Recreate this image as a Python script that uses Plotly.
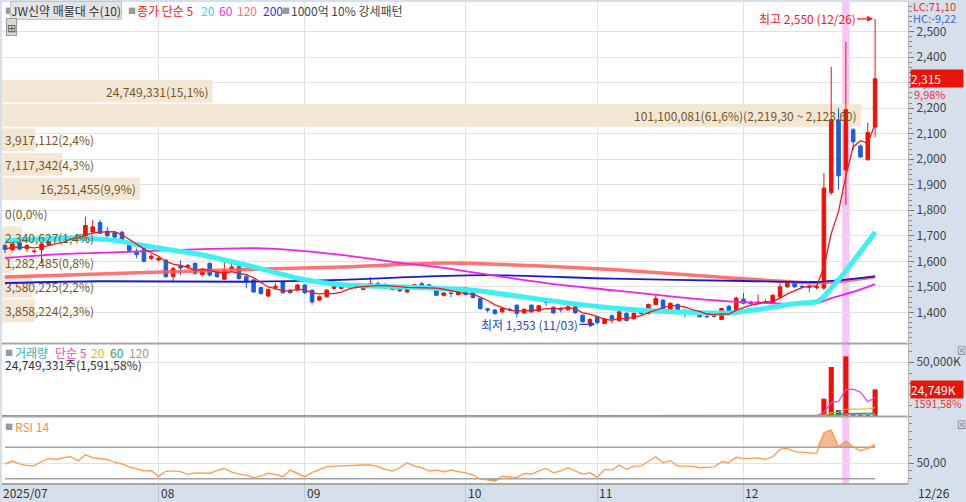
import pandas as pd
import plotly.graph_objects as go

# trading days shown on the chart (KRX calendar)
holidays = ["2025-08-15", "2025-10-03", "2025-10-06", "2025-10-07", "2025-10-08", "2025-10-09", "2025-12-25"]
days = pd.bdate_range("2025-07-03", "2025-12-26")
days = days[~days.isin(pd.to_datetime(holidays))]
dates = list(days.strftime("%Y-%m-%d"))

open_ = [
    1662, 1645, 1672, 1650, 1638, 1645, 1665, 1684, 1686, 1690,
    1700, 1700, 1715, 1752, 1718, 1712, 1714, 1668, 1640, 1650,
    1612, 1605, 1605, 1540, 1580, 1578, 1592, 1548, 1592, 1559,
    1530, 1570, 1579, 1540, 1527, 1497, 1464, 1498, 1520, 1487,
    1487, 1507, 1487, 1448, 1461, 1494, 1494, 1502, 1502, 1490,
    1508, 1508, 1508, 1490, 1496, 1480, 1504, 1512, 1508, 1497,
    1467, 1476, 1470, 1497, 1480, 1454, 1414, 1409, 1402, 1412,
    1428, 1398, 1428, 1405, 1441, 1420, 1416, 1410, 1422, 1389,
    1357, 1382, 1356, 1387, 1367, 1396, 1375, 1398, 1396, 1431,
    1448, 1402, 1431, 1404, 1398, 1389, 1384, 1386, 1372, 1424,
    1409, 1452, 1440, 1436, 1442, 1436, 1460, 1500, 1516, 1502,
    1502, 1497, 1495, 1870, 2154, 1958, 2115, 2052, 1998, 2126,
]
high = [
    1670, 1675, 1680, 1668, 1646, 1672, 1694, 1698, 1700, 1702,
    1708, 1774, 1762, 1762, 1735, 1718, 1720, 1672, 1650, 1655,
    1628, 1620, 1608, 1578, 1604, 1590, 1596, 1572, 1596, 1566,
    1598, 1598, 1585, 1545, 1532, 1500, 1494, 1514, 1524, 1492,
    1512, 1510, 1490, 1466, 1492, 1530, 1514, 1510, 1508, 1506,
    1538, 1520, 1516, 1500, 1500, 1502, 1512, 1520, 1512, 1500,
    1480, 1480, 1484, 1500, 1484, 1458, 1418, 1414, 1420, 1418,
    1432, 1416, 1432, 1430, 1452, 1424, 1420, 1428, 1426, 1392,
    1378, 1386, 1378, 1392, 1406, 1400, 1400, 1406, 1434, 1466,
    1452, 1440, 1435, 1415, 1410, 1392, 1390, 1392, 1418, 1430,
    1462, 1476, 1446, 1470, 1452, 1470, 1514, 1520, 1522, 1508,
    1510, 1506, 1946, 2362, 2200, 2460, 2122, 2058, 2142, 2550,
]
low = [
    1632, 1640, 1642, 1636, 1630, 1592, 1660, 1678, 1680, 1684,
    1686, 1696, 1710, 1706, 1696, 1690, 1676, 1638, 1612, 1596,
    1605, 1600, 1536, 1520, 1546, 1570, 1548, 1540, 1540, 1535,
    1526, 1566, 1528, 1494, 1476, 1470, 1460, 1488, 1472, 1472,
    1483, 1472, 1430, 1444, 1458, 1490, 1490, 1494, 1492, 1486,
    1504, 1504, 1496, 1486, 1480, 1476, 1500, 1500, 1494, 1464,
    1462, 1460, 1466, 1466, 1454, 1410, 1400, 1390, 1398, 1404,
    1380, 1394, 1398, 1400, 1425, 1394, 1400, 1406, 1394, 1360,
    1354, 1353, 1355, 1356, 1364, 1364, 1372, 1390, 1392, 1428,
    1410, 1398, 1392, 1380, 1394, 1380, 1378, 1380, 1370, 1398,
    1405, 1432, 1428, 1432, 1434, 1432, 1456, 1496, 1496, 1494,
    1480, 1490, 1488, 1860, 1880, 1821, 2036, 2005, 1995, 2087,
]
close = [
    1646, 1668, 1648, 1662, 1640, 1668, 1688, 1690, 1692, 1696,
    1692, 1740, 1735, 1710, 1700, 1695, 1680, 1642, 1626, 1600,
    1620, 1612, 1540, 1572, 1574, 1584, 1553, 1566, 1546, 1540,
    1566, 1578, 1533, 1520, 1480, 1474, 1490, 1502, 1477, 1478,
    1507, 1477, 1441, 1461, 1487, 1500, 1507, 1500, 1498, 1500,
    1512, 1512, 1502, 1496, 1484, 1497, 1508, 1504, 1498, 1467,
    1476, 1474, 1480, 1470, 1458, 1415, 1409, 1396, 1415, 1410,
    1396, 1412, 1402, 1426, 1439, 1398, 1410, 1422, 1399, 1363,
    1372, 1360, 1374, 1374, 1402, 1368, 1396, 1396, 1431, 1454,
    1415, 1435, 1396, 1402, 1404, 1383, 1383, 1384, 1415, 1402,
    1456, 1436, 1434, 1440, 1439, 1467, 1500, 1516, 1500, 1500,
    1498, 1502, 1887, 2155, 1935, 2195, 2068, 2009, 2105, 2315,
]
volume = [
    152000, 138000, 121000, 96000, 88000, 175000, 143000, 110000, 97000, 102000,
    118000, 264000, 198000, 187000, 126000, 94000, 115000, 133000, 121000, 142000,
    87000, 76000, 168000, 112000, 94000, 71000, 98000, 83000, 102000, 77000,
    119000, 86000, 104000, 131000, 156000, 97000, 88000, 74000, 103000, 79000,
    92000, 86000, 141000, 82000, 95000, 118000, 91000, 66000, 58000, 72000,
    109000, 84000, 69000, 63000, 77000, 81000, 62000, 70000, 59000, 104000,
    73000, 61000, 68000, 95000, 88000, 163000, 92000, 85000, 77000, 64000,
    118000, 83000, 92000, 97000, 126000, 101000, 74000, 69000, 82000, 135000,
    112000, 168000, 121000, 97000, 143000, 96000, 88000, 72000, 154000, 187000,
    109000, 117000, 98000, 81000, 66000, 74000, 63000, 59000, 132000, 94000,
    176000, 121000, 78000, 102000, 83000, 91000, 226000, 148000, 113000, 84000,
    97000, 420000, 16100000, 45600000, 5500000, 55500000, 2450000, 1600000, 1555019, 24749331,
]

# long moving averages (trading-day number, price)
ma20_days = [0, 8, 15, 18, 27, 32, 34, 37, 41, 46, 55, 64, 66, 74, 83, 92, 99, 104, 108, 111, 112, 113, 114, 115, 116, 117, 118, 119]
ma20_vals = [1680, 1690, 1682, 1666, 1625, 1592, 1578, 1556, 1528, 1508, 1499, 1487, 1480, 1448, 1417, 1401, 1398, 1416, 1434, 1442, 1462, 1495, 1528, 1562, 1600, 1638, 1675, 1715]
ma60_days = [0, 8, 17, 27, 34, 39, 46, 53, 60, 66, 74, 83, 92, 101, 111, 113, 116, 119]
ma60_vals = [1613, 1629, 1637, 1648, 1652, 1645, 1625, 1598, 1574, 1548, 1515, 1487, 1460, 1440, 1436, 1456, 1480, 1511]
ma120_days = [0, 17, 33, 46, 60, 66, 83, 99, 111, 115, 119]
ma120_vals = [1539, 1554, 1568, 1578, 1593, 1590, 1568, 1536, 1516, 1524, 1539]
ma200_days = [0, 13, 33, 46, 55, 66, 83, 101, 111, 119]
ma200_vals = [1515, 1522, 1520, 1527, 1538, 1546, 1532, 1523, 1519, 1541]

rsi14 = [
    48.7, 52.5, 49.0, 47.0, 46.5, 52.0, 56.0, 54.5, 57.0, 58.0,
    53.0, 60.5, 57.0, 56.0, 54.5, 51.0, 49.0, 45.0, 42.5, 40.0,
    40.5, 33.0, 39.5, 40.0, 39.0, 35.5, 37.5, 37.0, 37.0, 40.5,
    43.0, 38.5, 36.0, 34.5, 31.3, 33.5, 37.0, 35.5, 32.6, 41.0,
    37.0, 32.6, 38.0, 42.0, 45.4, 46.0, 46.5, 47.0, 47.5, 47.5,
    47.5, 45.4, 42.0, 39.8, 44.0, 50.4, 46.2, 44.0, 39.8, 41.0,
    38.9, 41.0, 39.0, 37.6, 35.0, 29.6, 28.5, 26.7, 33.4, 32.5,
    31.7, 36.8, 36.0, 40.0, 43.2, 37.6, 40.0, 44.0, 40.0, 36.0,
    37.6, 31.7, 42.0, 41.0, 47.5, 42.0, 46.0, 46.5, 52.0, 58.0,
    50.4, 53.0, 46.2, 46.0, 46.0, 44.0, 44.5, 45.0, 51.7, 50.4,
    57.3, 56.0, 56.0, 56.5, 54.7, 58.0, 67.4, 68.7, 64.4, 63.5,
    63.0, 62.4, 88.6, 92.0, 70.8, 78.0, 70.8, 65.7, 68.7, 73.8,
]

# volume profile (매물대), 10 price bands from low to high
band_edges = [1358.0, 1453.7, 1549.4, 1645.1, 1740.8, 1836.5, 1932.2, 2027.9, 2123.6, 2219.3, 2315.0]
band_volume = [3858224, 3580225, 1282485, 2340627, 0, 16251455, 7117342, 3917112, 101100081, 24749331]

month_labels = ["2025/07", "08", "09", "10", "11", "12"]
highlight_day = "2025-12-19"

RED = "#e8140c"
BLUE = "#1d5fd0"
GRID = "#e2e2e2"
AXIS_BG = "#d6e0ec"
FONT = "Noto Sans CJK KR"

W, H = 966, 502
ML, MR, MT, MB = 2, 58, 2, 18
PW, PH = W - ML - MR, H - MT - MB


def px_x(x):
    return (x - ML) / PW


def px_y(y):
    return (H - MB - y) / PH


def dec(s):
    # the chart writes decimals with a comma
    return s.replace(".", ",")


n = len(dates)
idx = list(range(n))
ma5 = pd.Series(close).rolling(5, min_periods=1).mean()
vol_s = pd.Series(volume)
vma = {w: vol_s.rolling(w, min_periods=1).mean() for w in (5, 20, 60, 120)}
month_start = [i for i in range(1, n) if dates[i][5:7] != dates[i - 1][5:7]]
hl = dates.index(highlight_day)
xr = [-0.41, 123.5]

fig = go.Figure()

# volume profile bars (own hidden x axis, behind candles)
centers = [(band_edges[k] + band_edges[k + 1]) / 2 for k in range(len(band_volume))]
heights = [(band_edges[k + 1] - band_edges[k]) * 0.93 for k in range(len(band_volume))]
fig.add_trace(go.Bar(x=band_volume, y=centers, width=heights, orientation="h",
                     marker=dict(color="#f5e7d5", line=dict(width=0)),
                     xaxis="x", yaxis="y", hoverinfo="skip"))


def ma_line(d, v, color, width):
    return go.Scatter(x=d, y=v, mode="lines", xaxis="x2", yaxis="y", hoverinfo="skip",
                      line=dict(color=color, width=width, shape="spline", smoothing=0.7))


fig.add_trace(ma_line(ma120_days, ma120_vals, "rgba(255,90,90,0.85)", 3.5))
fig.add_trace(ma_line(ma200_days, ma200_vals, "#1a1ad6", 1.8))
fig.add_trace(ma_line(ma60_days, ma60_vals, "#ee22ee", 1.8))
fig.add_trace(ma_line(ma20_days, ma20_vals, "#3ff0f0", 5))

fig.add_trace(go.Candlestick(
    x=idx, open=open_, high=high, low=low, close=close, xaxis="x2", yaxis="y",
    increasing=dict(line=dict(color=RED, width=1), fillcolor=RED),
    decreasing=dict(line=dict(color=BLUE, width=1), fillcolor=BLUE),
    whiskerwidth=0, hoverinfo="skip"))
fig.add_trace(go.Scatter(x=idx, y=ma5, mode="lines", xaxis="x2", yaxis="y",
                         line=dict(color="#f01818", width=1.3), hoverinfo="skip"))

# volume panel
vcolors = [RED if c >= o else BLUE for o, c in zip(open_, close)]
fig.add_trace(go.Bar(x=idx, y=volume, width=0.7, marker=dict(color=vcolors, line=dict(width=0)),
                     xaxis="x3", yaxis="y3", hoverinfo="skip"))
for w, col in [(120, "#a0a0a0"), (60, "#3c9a58"), (20, "#f5a81c"), (5, "#e048d0")]:
    fig.add_trace(go.Scatter(x=idx, y=vma[w], mode="lines", xaxis="x3", yaxis="y3",
                             line=dict(color=col, width=1.2), hoverinfo="skip"))

# RSI panel
fig.add_trace(go.Scatter(x=idx, y=[70] * n, mode="lines", xaxis="x4", yaxis="y4",
                         line=dict(color="#a4a4a4", width=1.6), hoverinfo="skip"))
fig.add_trace(go.Scatter(x=idx, y=[max(v, 70) for v in rsi14], mode="lines", xaxis="x4", yaxis="y4",
                         line=dict(width=0), fill="tonexty", fillcolor="rgba(240,160,110,0.75)",
                         hoverinfo="skip"))
fig.add_trace(go.Scatter(x=idx, y=[30] * n, mode="lines", xaxis="x4", yaxis="y4",
                         line=dict(color="#a4a4a4", width=1.6), hoverinfo="skip"))
fig.add_trace(go.Scatter(x=idx, y=[min(v, 30) for v in rsi14], mode="lines", xaxis="x4", yaxis="y4",
                         line=dict(width=0), fill="tonexty", fillcolor="rgba(90,150,170,0.8)",
                         hoverinfo="skip"))
fig.add_trace(go.Scatter(x=idx, y=rsi14, mode="lines", xaxis="x4", yaxis="y4",
                         line=dict(color="#ff9a50", width=1.3), hoverinfo="skip"))

tickfont = dict(family=FONT, size=12, color="#444")
yax_common = dict(side="right", showgrid=True, gridcolor=GRID, zeroline=False, ticks="outside",
                  ticklen=5, tickcolor="#777", showline=True, linecolor="#b4b4b4", tickfont=tickfont,
                  fixedrange=True)
xax_common = dict(range=xr, tickvals=month_start, showticklabels=False, showgrid=True,
                  gridcolor=GRID, zeroline=False, fixedrange=True)

fig.update_layout(
    width=W, height=H, margin=dict(l=ML, r=MR, t=MT, b=MB),
    paper_bgcolor=AXIS_BG, plot_bgcolor="white", showlegend=False, hovermode=False,
    font=dict(family=FONT, size=12, color="#333"),
    xaxis=dict(domain=[0, 1], range=[0, PW / 8.5 * 1e6], visible=False, anchor="y", fixedrange=True),
    xaxis2=dict(overlaying="x", anchor="y", rangeslider=dict(visible=False), **xax_common),
    xaxis3=dict(domain=[0, 1], anchor="y3", **xax_common),
    xaxis4=dict(domain=[0, 1], anchor="y4", ticks="outside", ticklen=17, tickcolor="#c2cad4", **xax_common),
    yaxis=dict(domain=[px_y(343), 1], range=[1280, 2616], tickvals=list(range(1400, 2501, 100)),
               tickformat=",", minor=dict(tickmode="linear", tick0=0, dtick=20, ticks="outside",
                                          ticklen=3, tickcolor="#888"), **yax_common),
    yaxis3=dict(domain=[px_y(416), px_y(344)], range=[0, 67e6], tickvals=[50e6], ticktext=["50,000K"],
                minor=dict(tickmode="linear", tick0=0, dtick=10e6, ticks="outside", ticklen=3,
                           tickcolor="#888"), **yax_common),
    yaxis4=dict(domain=[0, px_y(417)], range=[23.3, 108.6], tickvals=[50], ticktext=["50,00"],
                minor=dict(tickmode="linear", tick0=0, dtick=10, ticks="outside", ticklen=3,
                           tickcolor="#888"), **yax_common),
)

shapes = [dict(type="rect", xref="x2", yref="paper", x0=hl - 0.5, x1=hl + 0.5, y0=0, y1=1,
               fillcolor="#f8c6f4", line=dict(width=0), layer="below")]
for yy in (343.5, 416.5, 484):
    shapes.append(dict(type="line", xref="paper", yref="paper", x0=0, x1=1, y0=px_y(yy), y1=px_y(yy),
                       line=dict(color="#a8a8a8", width=2)))
fig.update_layout(shapes=shapes)


def note(text, x, y, color="#333", size=12, anchor="left", **kw):
    return dict(text=text, xref="paper", yref="paper", x=px_x(x), y=px_y(y), xanchor=anchor,
                yanchor="middle", showarrow=False, font=dict(family=FONT, size=size, color=color), **kw)


ann = []
# header of price panel
ann.append(note("■", 3, 10, "#9a9a9a", 8))
ann.append(note("JW신약 매물대 수(10)", 10, 10, "#333", 12, bgcolor="#e4e4e4", bordercolor="#c4c4c4",
                borderwidth=1, borderpad=0))
ann.append(note("■", 126, 10, "#9a9a9a", 8))
for txt, x, col in [("종가 단순 5", 135, "#ee2020"), ("20", 199, "#22e0f0"), ("60", 217, "#ee30ee"),
                    ("120", 235, "#ff7070"), ("200", 261, "#3030dd")]:
    ann.append(note(txt, x, 10, col))
ann.append(note("■", 280, 10, "#9a9a9a", 8))
ann.append(note("1000억 10% 강세패턴", 289, 10, "#444"))
ann.append(note("⊞", 6, 27, "#555", 11, bgcolor="#d8d8d8", bordercolor="#999", borderwidth=1, borderpad=0))

# volume profile labels
total = sum(band_volume)
for k, v in enumerate(band_volume):
    txt = dec(f"{v:,}({v / total * 100:.1f}%)")
    if v == max(band_volume):
        txt += dec(f"({band_edges[k + 1]:,.2f} ~ {band_edges[k]:,.2f})")
    fits = v * 8.5e-6 > len(txt) * 6.3 + 4
    ann.append(dict(text=txt, xref="x", yref="y", x=v if fits else 0, y=centers[k],
                    xanchor="right" if fits else "left", xshift=-2 if fits else 1, yanchor="middle",
                    showarrow=False, font=dict(family=FONT, size=12, color="#735628")))

# highest / lowest markers
ih = high.index(max(high))
il = low.index(min(low))
ann.append(dict(text=f"최고 {high[ih]:,} ({dates[ih][5:7]}/{dates[ih][8:]})", xref="x2", yref="y",
                x=ih, y=high[ih], ax=-68, ay=0, showarrow=True, arrowhead=2, arrowsize=1,
                arrowwidth=1.2, arrowcolor="#ee2020", standoff=2,
                font=dict(family=FONT, size=12, color="#ee2020")))
ann.append(dict(text=f"최저 {low[il]:,} ({dates[il][5:7]}/{dates[il][8:]})", xref="x2", yref="y",
                x=il, y=low[il], ax=-68, ay=0, showarrow=True, arrowhead=2, arrowsize=1,
                arrowwidth=1.2, arrowcolor="#2a3fd0", standoff=2,
                font=dict(family=FONT, size=12, color="#2a3fd0")))

# right axis boxes
last = close[-1]
lc = (last - min(low)) / min(low) * 100
hc = (last - max(high)) / max(high) * 100
chg = (last - close[-2]) / close[-2] * 100
ann.append(note(dec(f"LC:{lc:.2f}"), 911, 6, "#e83030", 11))
ann.append(note(dec(f"HC:{hc:.2f}"), 911, 18, "#3a6ad8", 11))
ann.append(dict(text=f"{last:,}", xref="paper", yref="y", x=px_x(910), y=last, xanchor="left",
                yanchor="middle", showarrow=False, bgcolor=RED, width=52, align="left", borderpad=0,
                font=dict(family=FONT, size=12, color="white")))
ann.append(dict(text=dec(f"{chg:.2f}%"), xref="paper", yref="y", x=px_x(912), y=last, yshift=-15,
                xanchor="left", yanchor="middle", showarrow=False,
                font=dict(family=FONT, size=11, color="#e83030")))
vpct = volume[-1] / volume[-2] * 100
ann.append(dict(text=f"{volume[-1] / 1000:,.0f}K", xref="paper", yref="y3", x=px_x(910), y=volume[-1],
                xanchor="left", yanchor="middle", showarrow=False, bgcolor=RED, width=52, align="left",
                borderpad=0, font=dict(family=FONT, size=12, color="white")))
ann.append(dict(text=dec(f"{vpct:.2f}%"), xref="paper", yref="y3", x=px_x(912), y=volume[-1], yshift=-14,
                xanchor="left", yanchor="middle", showarrow=False,
                font=dict(family=FONT, size=10.5, color="#e83030")))

# volume and RSI headers
ann.append(note("■", 3, 352, "#9a9a9a", 8))
for txt, x, col in [("거래량", 13, "#3aaeb0"), ("단순 5", 53, "#e04ad0"), ("20", 89, "#f2b020"),
                    ("60", 108, "#3c9a58"), ("120", 127, "#999999")]:
    ann.append(note(txt, x, 352, col))
ann.append(note(dec(f"{volume[-1]:,}주({vpct:,.2f}%)"), 3, 364, "#333"))
ann.append(note("■", 3, 426, "#9a9a9a", 8))
ann.append(note("RSI 14", 13, 426, "#ff8a3c"))
ann.append(note("⊠", 955, 350, "#777", 9))
ann.append(note("⊠", 955, 424, "#777", 9))

# date strip
for k, pos in enumerate([0] + month_start):
    ann.append(dict(text=month_labels[k], xref="x4", yref="paper", x=pos, y=px_y(493),
                    xanchor="left", yanchor="middle", xshift=-4 if k == 0 else 0, showarrow=False,
                    font=dict(family=FONT, size=12, color="#333")))
ann.append(note(f"{dates[-1][5:7]}/{dates[-1][8:]}", 916, 493, "#333"))

fig.update_layout(annotations=ann)
# the page's default body margin would push the chart 8px in; remove it
fig.write_html("out.html", config={"displayModeBar": False},
               post_script="document.body.style.margin='0';")
